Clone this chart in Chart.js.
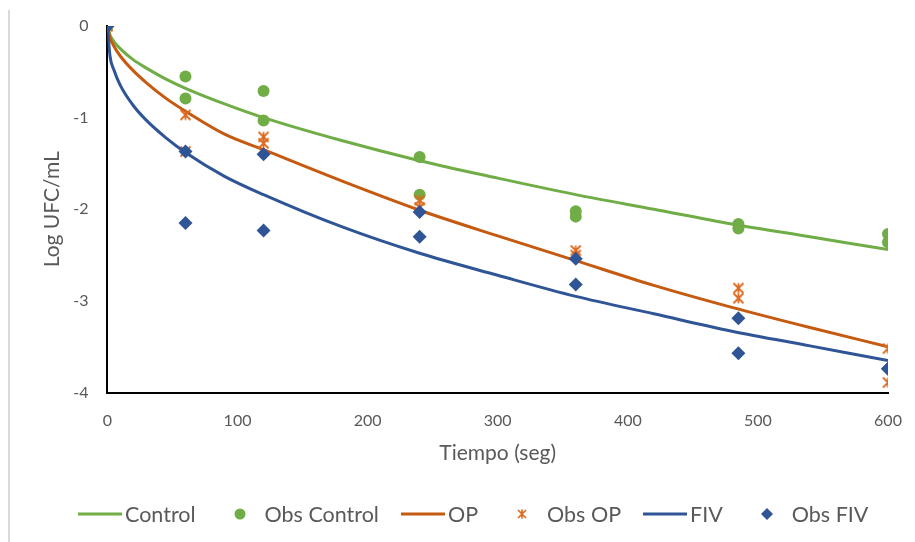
<!DOCTYPE html>
<html>
<head>
<meta charset="utf-8">
<script src="https://cdn.jsdelivr.net/npm/chart.js@4.4.1/dist/chart.umd.min.js"></script>
<style>
  html, body { margin: 0; padding: 0; background: #fff; }
  #wrap { position: relative; width: 915px; height: 542px; }
  #edge { position: absolute; left: 8px; top: 10px; width: 2px; height: 532px; background: #d9d9d9; }
  #legend {
    position: absolute; left: 78px; top: 501px; display: flex; align-items: center;
    font-family: Lato, "Open Sans", sans-serif; font-size: 21.5px; color: #595959;
  }
  .item { display: flex; align-items: center; margin-right: 22px; }
  .item svg { width: 44px; height: 20px; margin-right: 3px; }
</style>
</head>
<body>
<div id="wrap">
  <div id="edge"></div>
  <canvas id="chart" width="915" height="542"></canvas>
  <div id="legend"></div>
</div>
<script>
// fitted curves (Log UFC/mL vs seconds)
const fitTime = [0, 2, 5, 10, 20, 30, 45, 60, 90, 120, 180, 240, 300, 360, 420, 480, 540, 600];
const fitControl = [0, -0.10, -0.17, -0.25, -0.37, -0.46, -0.58, -0.68, -0.85, -1.00, -1.25, -1.47, -1.66, -1.84, -2.00, -2.16, -2.30, -2.44];
const fitOP = [0, -0.13, -0.22, -0.33, -0.49, -0.62, -0.79, -0.93, -1.18, -1.35, -1.69, -2.01, -2.29, -2.56, -2.83, -3.07, -3.29, -3.50];
const fitFIV = [0, -0.33, -0.48, -0.65, -0.87, -1.03, -1.22, -1.38, -1.64, -1.84, -2.19, -2.48, -2.72, -2.95, -3.14, -3.33, -3.49, -3.65];

// observed replicates
const obsTime = [0, 0, 60, 60, 120, 120, 240, 240, 360, 360, 485, 485, 600, 600];
const obsControl = [0, 0, -0.55, -0.79, -0.71, -1.03, -1.43, -1.84, -2.02, -2.08, -2.16, -2.21, -2.27, -2.36];
const obsOP = [0, 0, -0.97, -1.37, -1.21, -1.28, -1.90, -1.98, -2.45, -2.50, -2.86, -2.97, -3.52, -3.89];
const obsFIV = [0, 0, -1.37, -2.15, -1.40, -2.23, -2.03, -2.30, -2.54, -2.82, -3.19, -3.57, -3.74, -3.74];

const xTicks = [0, 100, 200, 300, 400, 500, 600];
const yTicks = [0, -1, -2, -3, -4];

const GREEN = '#70ad47';
const ORANGE = '#c55a11';
const ORANGE_MARK = '#dd6a1f';
const BLUE = '#2f5597';
const FONT = 'Lato, "Open Sans", sans-serif';

function pts(xs, ys) {
  return xs.map((x, i) => ({ x: x, y: ys[i] }));
}

// asterisk marker: an X crossed by a vertical bar
function starMarker(size, color) {
  const c = document.createElement('canvas');
  c.width = size; c.height = size;
  const g = c.getContext('2d');
  g.strokeStyle = color;
  g.lineWidth = 1.8;
  const m = 1.5, s = size - 1.5;
  g.beginPath();
  g.moveTo(m, m); g.lineTo(s, s);
  g.moveTo(s, m); g.lineTo(m, s);
  g.moveTo(size / 2, m); g.lineTo(size / 2, s);
  g.stroke();
  return c;
}

const star = starMarker(13, ORANGE_MARK);

function fitSet(label, ys, color, order) {
  return {
    label: label, data: pts(fitTime, ys), showLine: true, borderColor: color,
    borderWidth: 3, pointRadius: 0, cubicInterpolationMode: 'monotone', order: order
  };
}

function obsSet(label, ys, color, style, radius, order) {
  return {
    label: label, data: pts(obsTime, ys), showLine: false, pointStyle: style,
    pointRadius: radius, backgroundColor: color, borderColor: color, borderWidth: 0, order: order
  };
}

new Chart(document.getElementById('chart'), {
  type: 'scatter',
  data: {
    datasets: [
      fitSet('Control', fitControl, GREEN, 6),
      obsSet('Obs Control', obsControl, GREEN, 'circle', 6, 5),
      fitSet('OP', fitOP, ORANGE, 4),
      obsSet('Obs OP', obsOP, ORANGE_MARK, star, 6, 3),
      fitSet('FIV', fitFIV, BLUE, 2),
      obsSet('Obs FIV', obsFIV, BLUE, 'rectRot', 7, 1)
    ]
  },
  options: {
    responsive: false,
    animation: false,
    layout: { padding: { left: 40, right: 27, top: 26, bottom: 76 } },
    plugins: { legend: { display: false }, tooltip: { enabled: false } },
    scales: {
      x: {
        type: 'linear', min: 0, max: 600,
        afterBuildTicks: (axis) => { axis.ticks = xTicks.map(v => ({ value: v })); },
        // let the layout padding alone decide the right edge
        afterFit: (axis) => { axis.paddingRight = 0; },
        grid: { display: false, drawTicks: false, tickLength: 0 },
        border: { color: '#000', width: 2 },
        ticks: { color: '#595959', padding: 19, font: { family: FONT, size: 16 } },
        title: { display: true, text: 'Tiempo (seg)', color: '#595959', padding: { top: -9, bottom: 0 }, font: { family: FONT, size: 21 } }
      },
      y: {
        type: 'linear', min: -4, max: 0,
        afterBuildTicks: (axis) => { axis.ticks = yTicks.map(v => ({ value: v })); },
        afterFit: (axis) => { axis.paddingTop = 0; },
        grid: { display: false, drawTicks: false, tickLength: 0 },
        border: { color: '#000', width: 2 },
        ticks: { color: '#595959', padding: 19, font: { family: FONT, size: 16 } },
        title: { display: true, text: 'Log UFC/mL', color: '#595959', padding: { top: 0, bottom: -11 }, font: { family: FONT, size: 21 } }
      }
    }
  }
});

// legend row under the chart
const legendItems = [
  { text: 'Control', kind: 'line', color: GREEN },
  { text: 'Obs Control', kind: 'circle', color: GREEN },
  { text: 'OP', kind: 'line', color: ORANGE },
  { text: 'Obs OP', kind: 'star', color: ORANGE_MARK },
  { text: 'FIV', kind: 'line', color: BLUE },
  { text: 'Obs FIV', kind: 'diamond', color: BLUE }
];

function symbol(kind, color) {
  if (kind === 'line') return `<line x1="0" y1="10" x2="44" y2="10" stroke="${color}" stroke-width="3"/>`;
  if (kind === 'circle') return `<circle cx="22" cy="10" r="5.5" fill="${color}"/>`;
  if (kind === 'diamond') return `<path d="M22 4 L28 10 L22 16 L16 10 Z" fill="${color}"/>`;
  return `<path d="M18 6 L26 14 M26 6 L18 14 M22 5.5 L22 14.5" stroke="${color}" stroke-width="1.7" fill="none"/>`;
}

document.getElementById('legend').innerHTML = legendItems.map(it =>
  `<div class="item"><svg viewBox="0 0 44 20">${symbol(it.kind, it.color)}</svg><span>${it.text}</span></div>`
).join('');
</script>
</body>
</html>
